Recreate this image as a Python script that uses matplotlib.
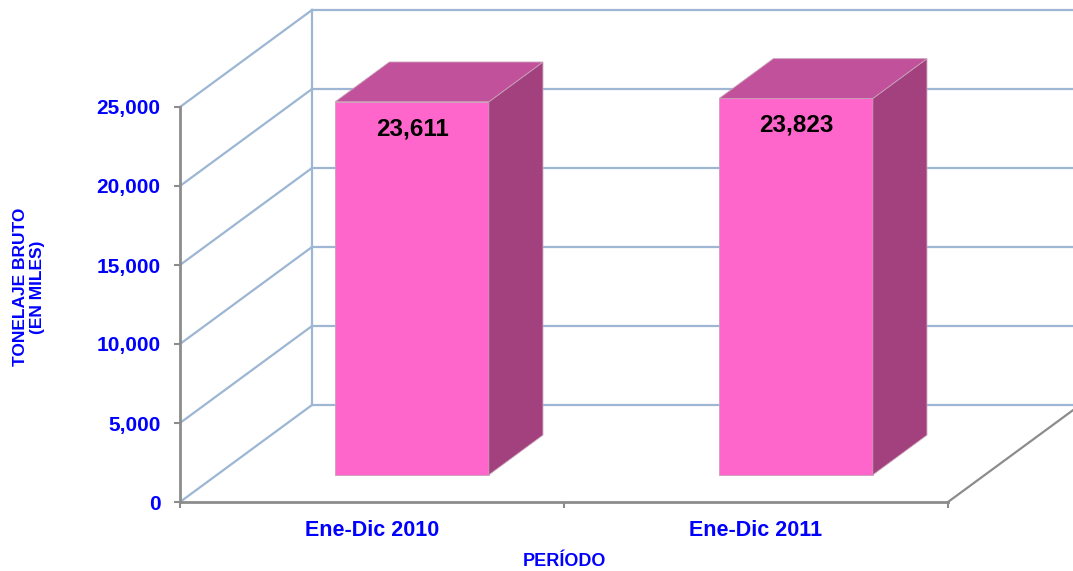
import matplotlib.pyplot as plt
import numpy as np
from matplotlib.ticker import FuncFormatter

plt.rcParams['font.family'] = ['Liberation Sans', 'DejaVu Sans']

categories = ['Ene-Dic 2010', 'Ene-Dic 2011']
values = [23611, 23823]
yticks = [0, 5000, 10000, 15000, 20000, 25000]

blue = '#0000FF'
grid_c = '#9DB6D3'
axis_c = '#8C8C8C'
front_c = '#FF66CC'
top_c = '#C1519B'
side_c = '#A3407E'

fig = plt.figure(figsize=(10.73, 5.71), dpi=100)
W, H = 1073, 571
ax = fig.add_axes([180 / W, (H - 502) / H, 768 / W, 395 / H])
ax.set_xlim(0, 2)
ax.set_ylim(0, 25000)

# oblique depth vector (data units)
DX = 132 / 384
DY = 97 * 25000 / 395

# walls / gridlines
for v in yticks:
    ax.plot([0, DX], [v, v + DY], color=grid_c, lw=1.6, clip_on=False, zorder=1)
    ax.plot([DX, 2 + DX], [v + DY, v + DY], color=grid_c, lw=1.6, clip_on=False, zorder=1)
ax.plot([DX, DX], [DY, 25000 + DY], color=grid_c, lw=1.6, clip_on=False, zorder=1)
ax.plot([2, 2 + DX], [0, DY], color=axis_c, lw=1.6, clip_on=False, zorder=1)

# 3D bars
d0, d1 = 0.28, 0.69
bw = 0.40
for i, v in enumerate(values):
    xl = i + 0.5 - bw / 2 + d0 * DX + 0.008
    xr = xl + bw
    yb = d0 * DY
    yt = v + d0 * DY
    ex = (d1 - d0) * DX
    ey = (d1 - d0) * DY
    ax.fill([xl, xr, xr, xl], [yb, yb, yt, yt], color=front_c,
            ec='#C8A0B8', lw=0.6, clip_on=False, zorder=3)
    ax.fill([xr, xr + ex, xr + ex, xr], [yb, yb + ey, yt + ey, yt], color=side_c,
            ec='#C8A0B8', lw=0.6, clip_on=False, zorder=3)
    ax.fill([xl, xr, xr + ex, xl + ex], [yt, yt, yt + ey, yt + ey], color=top_c,
            ec='#C8A0B8', lw=0.6, clip_on=False, zorder=3)
    ax.text((xl + xr) / 2, v + d0 * DY - 1700, f'{v:,}', ha='center', va='center',
            fontsize=17.5, fontweight='bold', color='black', zorder=4)

for s in ['top', 'right']:
    ax.spines[s].set_visible(False)
for s in ['left', 'bottom']:
    ax.spines[s].set_color(axis_c)
    ax.spines[s].set_linewidth(2)
    ax.spines[s].set_zorder(2)

ax.set_yticks(yticks)
ax.yaxis.set_major_formatter(FuncFormatter(lambda v, p: f'{int(v):,}'))
ax.tick_params(axis='y', length=4, width=1.5, color=axis_c, pad=10,
               labelsize=15, labelcolor=blue)
ax.set_xticks([0.5, 1.5])
ax.set_xticklabels(categories)
ax.set_xticks([0, 1, 2], minor=True)
ax.tick_params(axis='x', which='major', length=0, pad=13, labelsize=15.5, labelcolor=blue)
ax.tick_params(axis='x', which='minor', length=4, width=1.5, color=axis_c)
for lab in ax.get_xticklabels() + ax.get_yticklabels():
    lab.set_fontweight('bold')

fig.text(29 / W, 1 - 287 / H, 'TONELAJE BRUTO\n(EN MILES)', rotation=90,
         ha='center', va='center', fontsize=12.5, fontweight='bold', color=blue,
         linespacing=1.1)
fig.text(564 / W, 1 - 561 / H, 'PERÍODO', ha='center', va='center',
         fontsize=13, fontweight='bold', color=blue)

fig.savefig('out.png', dpi=100)
